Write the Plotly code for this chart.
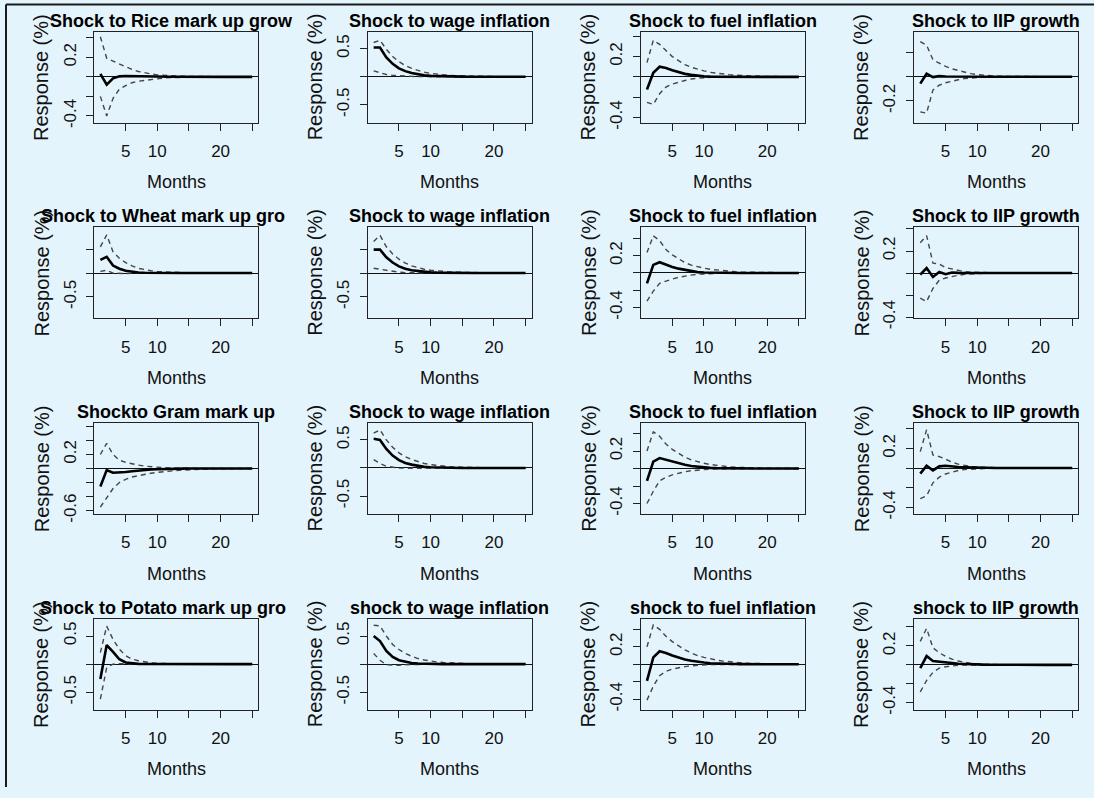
import plotly.graph_objects as go

# ---------------- data ----------------
months = list(range(1, 26))
x_tickvals = [5, 10, 15, 20, 25]
x_ticktext = ["5", "10", "", "20", ""]

titles = [
    "Shock to Rice mark up grow", "Shock to wage inflation", "Shock to fuel inflation", "Shock to IIP growth",
    "Shock to Wheat mark up gro", "Shock to wage inflation", "Shock to fuel inflation", "Shock to IIP growth",
    "Shockto Gram mark up", "Shock to wage inflation", "Shock to fuel inflation", "Shock to IIP growth",
    "Shock to Potato mark up gro", "shock to wage inflation", "shock to fuel inflation", "shock to IIP growth",
]

# row 1
rice_irf = [0.03, -0.08, -0.015, 0.005, 0.008, 0.006, 0.005, 0.004, 0.003, 0.002, 0.002, 0.001, 0.001, 0, 0, 0, 0, 0, 0, 0, 0, 0, 0, 0, 0]
rice_hi = [0.41, 0.19, 0.16, 0.13, 0.10, 0.075, 0.055, 0.04, 0.03, 0.02, 0.015, 0.01, 0.008, 0.006, 0.004, 0.003, 0.002, 0.002, 0.001, 0.001, 0.001, 0, 0, 0, 0]
rice_lo = [-0.2, -0.40, -0.22, -0.126, -0.09, -0.06, -0.045, -0.035, -0.025, -0.018, -0.012, -0.008, -0.006, -0.004, -0.003, -0.002, -0.002, -0.001, -0.001, -0.001, 0, 0, 0, 0, 0]

wage1_irf = [0.52, 0.52, 0.345, 0.23, 0.15, 0.10, 0.065, 0.04, 0.025, 0.015, 0.01, 0.006, 0.004, 0.003, 0.002, 0.001, 0.001, 0, 0, 0, 0, 0, 0, 0, 0]
wage1_hi = [0.61, 0.65, 0.49, 0.36, 0.27, 0.20, 0.15, 0.11, 0.08, 0.06, 0.045, 0.035, 0.025, 0.02, 0.015, 0.011, 0.008, 0.006, 0.004, 0.003, 0.002, 0.002, 0.001, 0.001, 0.001]
wage1_lo = [0.105, 0.07, 0.04, 0.025, 0.015, 0.01, 0.006, 0.004, 0.002, 0.001, 0, 0, 0, 0, 0, 0, 0, 0, 0, 0, 0, 0, 0, 0, 0]

fuel1_irf = [-0.123, 0.04, 0.10, 0.087, 0.065, 0.045, 0.03, 0.02, 0.01, 0.005, 0.003, 0.002, 0.001, 0, 0, 0, 0, 0, 0, 0, 0, 0, 0, 0, 0]
fuel1_hi = [0.14, 0.36, 0.32, 0.255, 0.2, 0.16, 0.12, 0.095, 0.075, 0.06, 0.045, 0.035, 0.028, 0.022, 0.017, 0.013, 0.01, 0.008, 0.006, 0.005, 0.004, 0.003, 0.002, 0.002, 0.001]
fuel1_lo = [-0.25, -0.27, -0.165, -0.10, -0.07, -0.05, -0.035, -0.02, -0.012, -0.008, -0.005, -0.003, -0.002, -0.001, 0, 0, 0, 0, 0, 0, 0, 0, 0, 0, 0]

iip1_irf = [-0.057, 0.025, -0.003, 0.005, 0.002, 0.001, 0, 0, 0, 0, 0, 0, 0, 0, 0, 0, 0, 0, 0, 0, 0, 0, 0, 0, 0]
iip1_hi = [0.29, 0.26, 0.14, 0.11, 0.085, 0.065, 0.05, 0.035, 0.025, 0.018, 0.012, 0.008, 0.005, 0.003, 0.002, 0.001, 0, 0, 0, 0, 0, 0, 0, 0, 0]
iip1_lo = [-0.29, -0.30, -0.11, -0.07, -0.05, -0.035, -0.025, -0.015, -0.01, -0.006, -0.004, -0.002, -0.001, 0, 0, 0, 0, 0, 0, 0, 0, 0, 0, 0, 0]

# row 2
wheat_irf = [0.275, 0.34, 0.158, 0.09, 0.05, 0.025, 0.012, 0.006, 0.003, 0.001, 0, 0, 0, 0, 0, 0, 0, 0, 0, 0, 0, 0, 0, 0, 0]
wheat_hi = [0.55, 0.80, 0.445, 0.31, 0.22, 0.15, 0.10, 0.07, 0.05, 0.035, 0.025, 0.018, 0.012, 0.008, 0.005, 0.003, 0.002, 0.001, 0, 0, 0, 0, 0, 0, 0]
wheat_lo = [0.035, 0.06, 0.0, -0.01, -0.01, -0.005, -0.003, -0.002, -0.001, 0, 0, 0, 0, 0, 0, 0, 0, 0, 0, 0, 0, 0, 0, 0, 0]

wage2_irf = [0.49, 0.49, 0.33, 0.22, 0.14, 0.09, 0.06, 0.04, 0.025, 0.015, 0.01, 0.006, 0.004, 0.002, 0.001, 0, 0, 0, 0, 0, 0, 0, 0, 0, 0]
wage2_hi = [0.66, 0.79, 0.55, 0.40, 0.29, 0.21, 0.15, 0.11, 0.08, 0.06, 0.045, 0.033, 0.025, 0.018, 0.013, 0.01, 0.007, 0.005, 0.004, 0.003, 0.002, 0.001, 0.001, 0, 0]
wage2_lo = [0.10, 0.08, 0.05, 0.03, 0.018, 0.01, 0.006, 0.003, 0.001, 0, 0, 0, 0, 0, 0, 0, 0, 0, 0, 0, 0, 0, 0, 0, 0]

fuel2_irf = [-0.12, 0.093, 0.124, 0.093, 0.07, 0.05, 0.035, 0.02, 0.01, 0.005, 0.003, 0.002, 0.001, 0, 0, 0, 0, 0, 0, 0, 0, 0, 0, 0, 0]
fuel2_hi = [0.236, 0.43, 0.375, 0.27, 0.21, 0.16, 0.12, 0.09, 0.07, 0.055, 0.042, 0.033, 0.025, 0.019, 0.014, 0.01, 0.008, 0.006, 0.004, 0.003, 0.002, 0.002, 0.001, 0.001, 0]
fuel2_lo = [-0.326, -0.21, -0.12, -0.093, -0.07, -0.05, -0.035, -0.025, -0.015, -0.01, -0.006, -0.004, -0.002, -0.001, 0, 0, 0, 0, 0, 0, 0, 0, 0, 0, 0]

iip2_irf = [-0.015, 0.045, -0.035, 0.01, -0.01, 0.005, 0.002, 0.001, 0, 0, 0, 0, 0, 0, 0, 0, 0, 0, 0, 0, 0, 0, 0, 0, 0]
iip2_hi = [0.275, 0.34, 0.09, 0.083, 0.05, 0.035, 0.02, 0.012, 0.008, 0.005, 0.003, 0.002, 0.001, 0, 0, 0, 0, 0, 0, 0, 0, 0, 0, 0, 0]
iip2_lo = [-0.228, -0.258, -0.14, -0.065, -0.045, -0.03, -0.02, -0.012, -0.007, -0.004, -0.002, -0.001, 0, 0, 0, 0, 0, 0, 0, 0, 0, 0, 0, 0, 0]

# row 3
gram_irf = [-0.257, -0.022, -0.06, -0.06, -0.05, -0.038, -0.027, -0.02, -0.013, -0.009, -0.005, -0.003, -0.002, -0.001, 0, 0, 0, 0, 0, 0, 0, 0, 0, 0, 0]
gram_hi = [0.2, 0.36, 0.2, 0.12, 0.088, 0.066, 0.05, 0.035, 0.025, 0.018, 0.012, 0.009, 0.005, 0.003, 0.002, 0.001, 0, 0, 0, 0, 0, 0, 0, 0, 0]
gram_lo = [-0.55, -0.41, -0.285, -0.2, -0.154, -0.12, -0.1, -0.082, -0.066, -0.055, -0.044, -0.035, -0.027, -0.022, -0.016, -0.012, -0.009, -0.007, -0.004, -0.003, -0.002, -0.001, -0.001, 0, 0]

wage3_irf = [0.52, 0.50, 0.34, 0.22, 0.14, 0.09, 0.06, 0.035, 0.02, 0.012, 0.007, 0.004, 0.002, 0.001, 0, 0, 0, 0, 0, 0, 0, 0, 0, 0, 0]
wage3_hi = [0.62, 0.68, 0.50, 0.37, 0.27, 0.20, 0.15, 0.11, 0.08, 0.06, 0.045, 0.033, 0.024, 0.018, 0.013, 0.009, 0.007, 0.005, 0.003, 0.002, 0.002, 0.001, 0.001, 0, 0]
wage3_lo = [0.15, 0.08, 0.03, 0.01, 0.0, -0.004, -0.003, -0.002, -0.001, 0, 0, 0, 0, 0, 0, 0, 0, 0, 0, 0, 0, 0, 0, 0, 0]

fuel3_irf = [-0.14, 0.08, 0.12, 0.10, 0.08, 0.06, 0.043, 0.03, 0.02, 0.012, 0.008, 0.005, 0.003, 0.002, 0.001, 0, 0, 0, 0, 0, 0, 0, 0, 0, 0]
fuel3_hi = [0.2, 0.42, 0.37, 0.28, 0.22, 0.17, 0.13, 0.1, 0.078, 0.06, 0.046, 0.035, 0.027, 0.02, 0.015, 0.011, 0.008, 0.006, 0.004, 0.003, 0.002, 0.002, 0.001, 0.001, 0]
fuel3_lo = [-0.40, -0.26, -0.14, -0.10, -0.072, -0.052, -0.037, -0.025, -0.016, -0.01, -0.006, -0.004, -0.002, -0.001, 0, 0, 0, 0, 0, 0, 0, 0, 0, 0, 0]

iip3_irf = [-0.057, 0.023, -0.023, 0.017, 0.023, 0.015, 0.01, 0.008, 0.005, 0.003, 0.002, 0.001, 0, 0, 0, 0, 0, 0, 0, 0, 0, 0, 0, 0, 0]
iip3_hi = [0.167, 0.39, 0.133, 0.117, 0.09, 0.06, 0.04, 0.025, 0.015, 0.01, 0.006, 0.004, 0.002, 0.001, 0, 0, 0, 0, 0, 0, 0, 0, 0, 0, 0]
iip3_lo = [-0.31, -0.283, -0.15, -0.093, -0.06, -0.04, -0.025, -0.015, -0.01, -0.006, -0.004, -0.002, -0.001, 0, 0, 0, 0, 0, 0, 0, 0, 0, 0, 0, 0]

# row 4
potato_irf = [-0.265, 0.34, 0.22, 0.088, 0.03, 0.012, 0.005, 0.002, 0.001, 0, 0, 0, 0, 0, 0, 0, 0, 0, 0, 0, 0, 0, 0, 0, 0]
potato_hi = [0.205, 0.675, 0.44, 0.265, 0.15, 0.09, 0.06, 0.04, 0.025, 0.015, 0.01, 0.006, 0.004, 0.002, 0.001, 0, 0, 0, 0, 0, 0, 0, 0, 0, 0]
potato_lo = [-0.62, -0.06, 0.0, 0.01, 0.005, 0.002, 0.001, 0, 0, 0, 0, 0, 0, 0, 0, 0, 0, 0, 0, 0, 0, 0, 0, 0, 0]

wage4_irf = [0.50, 0.41, 0.235, 0.13, 0.07, 0.04, 0.022, 0.012, 0.006, 0.003, 0.002, 0.001, 0, 0, 0, 0, 0, 0, 0, 0, 0, 0, 0, 0, 0]
wage4_hi = [0.69, 0.68, 0.50, 0.35, 0.26, 0.19, 0.14, 0.10, 0.075, 0.055, 0.04, 0.03, 0.022, 0.016, 0.012, 0.008, 0.006, 0.004, 0.003, 0.002, 0.001, 0.001, 0, 0, 0]
wage4_lo = [0.19, 0.07, -0.01, -0.02, -0.02, -0.01, -0.005, -0.002, -0.001, 0, 0, 0, 0, 0, 0, 0, 0, 0, 0, 0, 0, 0, 0, 0, 0]

fuel4_irf = [-0.19, 0.08, 0.15, 0.13, 0.1, 0.075, 0.055, 0.04, 0.028, 0.02, 0.013, 0.009, 0.006, 0.004, 0.003, 0.002, 0.001, 0, 0, 0, 0, 0, 0, 0, 0]
fuel4_hi = [0.2, 0.45, 0.40, 0.32, 0.26, 0.21, 0.165, 0.13, 0.1, 0.08, 0.062, 0.048, 0.037, 0.028, 0.021, 0.016, 0.012, 0.009, 0.007, 0.005, 0.004, 0.003, 0.002, 0.001, 0.001]
fuel4_lo = [-0.41, -0.25, -0.13, -0.08, -0.055, -0.038, -0.026, -0.017, -0.011, -0.007, -0.004, -0.002, -0.001, 0, 0, 0, 0, 0, 0, 0, 0, 0, 0, 0, 0]

iip4_irf = [-0.035, 0.093, 0.041, 0.036, 0.03, 0.02, 0.012, 0.008, 0.005, 0.003, 0.002, 0.001, 0, 0, 0, 0, 0, 0, 0, 0, 0, 0, 0, 0, 0]
iip4_hi = [0.248, 0.386, 0.18, 0.127, 0.09, 0.06, 0.04, 0.025, 0.015, 0.01, 0.006, 0.004, 0.002, 0.001, 0, 0, 0, 0, 0, 0, 0, 0, 0, 0, 0]
iip4_lo = [-0.286, -0.165, -0.08, -0.035, -0.02, -0.01, -0.005, -0.002, -0.001, 0, 0, 0, 0, 0, 0, 0, 0, 0, 0, 0, 0, 0, 0, 0, 0]

series = [
    (rice_irf, rice_lo, rice_hi), (wage1_irf, wage1_lo, wage1_hi), (fuel1_irf, fuel1_lo, fuel1_hi), (iip1_irf, iip1_lo, iip1_hi),
    (wheat_irf, wheat_lo, wheat_hi), (wage2_irf, wage2_lo, wage2_hi), (fuel2_irf, fuel2_lo, fuel2_hi), (iip2_irf, iip2_lo, iip2_hi),
    (gram_irf, gram_lo, gram_hi), (wage3_irf, wage3_lo, wage3_hi), (fuel3_irf, fuel3_lo, fuel3_hi), (iip3_irf, iip3_lo, iip3_hi),
    (potato_irf, potato_lo, potato_hi), (wage4_irf, wage4_lo, wage4_hi), (fuel4_irf, fuel4_lo, fuel4_hi), (iip4_irf, iip4_lo, iip4_hi),
]

# y axis ranges and ticks (per panel)
T4 = [-0.4, -0.2, 0, 0.2, 0.4]
T4_txt = ["-0.4", "", "", "0.2", ""]
T5 = [-0.5, 0, 0.5]
T6 = [-0.6, -0.4, -0.2, 0, 0.2, 0.4, 0.6]
y_ranges = [
    [-0.47, 0.46], [-0.82, 0.80], [-0.451, 0.443], [-0.38, 0.37],
    [-0.946, 0.958], [-0.946, 0.958], [-0.524, 0.528], [-0.41, 0.415],
    [-0.648, 0.648], [-0.82, 0.80], [-0.52, 0.52], [-0.467, 0.457],
    [-0.81, 0.805], [-0.81, 0.805], [-0.52, 0.52], [-0.475, 0.486],
]
y_tickvals = [
    T4, T5, T4, [-0.2, 0, 0.2],
    T5, T5, T4, T4,
    T6, T5, T4, T4,
    T5, T5, T4, T4,
]
y_ticktext = [
    T4_txt, ["-0.5", "", "0.5"], T4_txt, ["-0.2", "", ""],
    ["-0.5", "", ""], ["-0.5", "", ""], T4_txt, T4_txt,
    ["-0.6", "", "", "", "0.2", "", ""], ["-0.5", "", "0.5"], T4_txt, T4_txt,
    ["-0.5", "", "0.5"], ["-0.5", "", "0.5"], T4_txt, T4_txt,
]

# ---------------- layout geometry (pixels) ----------------
W, H = 1094, 798
BG = "#e4f4fc"
FONT = "Liberation Sans, Arial, Helvetica, sans-serif"
box_left = [94.3, 367.6, 640.9, 914.2]
box_top = [32.3, 230.5, 429.0, 627.5]
box_w, box_h = 164.0, 92.2
# title anchors for clipped titles in column 1
title_left_col1 = {0: 48, 1: 39, 3: 38}

fig = go.Figure()
annotations = []
layout_axes = {}

for i in range(16):
    r, c = divmod(i, 4)
    k = i + 1
    xl, yt = box_left[c], box_top[r]
    xname = "x" if k == 1 else f"x{k}"
    yname = "y" if k == 1 else f"y{k}"
    irf, lo, hi = series[i]

    for band in (hi, lo):
        fig.add_trace(go.Scatter(
            x=months, y=band, mode="lines", xaxis=xname, yaxis=yname,
            line=dict(color="#454545", width=1.4, dash="5px,4px"),
            showlegend=False, hoverinfo="skip"))
    fig.add_trace(go.Scatter(
        x=months, y=irf, mode="lines", xaxis=xname, yaxis=yname,
        line=dict(color="#000000", width=2.6),
        showlegend=False, hoverinfo="skip"))

    axis_common = dict(
        showgrid=False, showline=True, mirror=True, linecolor="#222222", linewidth=1,
        ticks="outside", ticklen=7, tickwidth=1, tickcolor="#222222",
        tickfont=dict(family=FONT, size=17, color="#111111"), fixedrange=True,
    )
    layout_axes["xaxis" if k == 1 else f"xaxis{k}"] = dict(
        axis_common,
        domain=[xl / W, (xl + box_w) / W], anchor=yname,
        range=[0.04, 25.96], tickmode="array", tickvals=x_tickvals, ticktext=x_ticktext,
        zeroline=False, ticklabelstandoff=6,
    )
    layout_axes["yaxis" if k == 1 else f"yaxis{k}"] = dict(
        axis_common,
        domain=[1 - (yt + box_h) / H, 1 - yt / H], anchor=xname,
        range=y_ranges[i], tickmode="array", tickvals=y_tickvals[i], ticktext=y_ticktext[i],
        tickangle=-90, zeroline=True, zerolinecolor="#111111", zerolinewidth=1,
        ticklabelstandoff=4,
    )

    # panel title
    ty = yt - 11.5
    if c == 0 and r in title_left_col1:
        annotations.append(dict(
            text=f"<b>{titles[i]}</b>", xref="paper", yref="paper",
            x=title_left_col1[r] / W, y=1 - ty / H, xanchor="left", yanchor="middle",
            showarrow=False, font=dict(family=FONT, size=18, color="#000000")))
    else:
        annotations.append(dict(
            text=f"<b>{titles[i]}</b>", xref="paper", yref="paper",
            x=(xl + box_w / 2) / W, y=1 - ty / H, xanchor="center", yanchor="middle",
            showarrow=False, font=dict(family=FONT, size=18, color="#000000")))
    # x label
    annotations.append(dict(
        text="Months", xref="paper", yref="paper",
        x=(xl + box_w / 2) / W, y=1 - (yt + box_h + 60.5) / H,
        xanchor="center", yanchor="middle", showarrow=False,
        font=dict(family=FONT, size=18, color="#111111")))
    # y label
    annotations.append(dict(
        text="Response (%)", xref="paper", yref="paper",
        x=(xl - 52.6) / W, y=1 - (yt + box_h / 2) / H, textangle=-90,
        xanchor="center", yanchor="middle", showarrow=False,
        font=dict(family=FONT, size=20, color="#111111")))

fig.update_layout(
    width=W, height=H, margin=dict(l=0, r=0, t=0, b=0),
    paper_bgcolor=BG, plot_bgcolor=BG,
    showlegend=False, annotations=annotations,
    shapes=[
        dict(type="line", xref="paper", yref="paper", x0=6 / W, x1=6 / W, y0=0, y1=1 - 4.5 / H,
             line=dict(color="#1a1a1a", width=2)),
        dict(type="line", xref="paper", yref="paper", x0=6 / W, x1=1, y0=1 - 4.5 / H, y1=1 - 4.5 / H,
             line=dict(color="#1a1a1a", width=2)),
    ],
    **layout_axes,
)

fig.write_html(
    "out.html",
    config={"displayModeBar": False, "staticPlot": True},
    post_script="document.body.style.margin='0';document.body.style.overflow='hidden';",
)
